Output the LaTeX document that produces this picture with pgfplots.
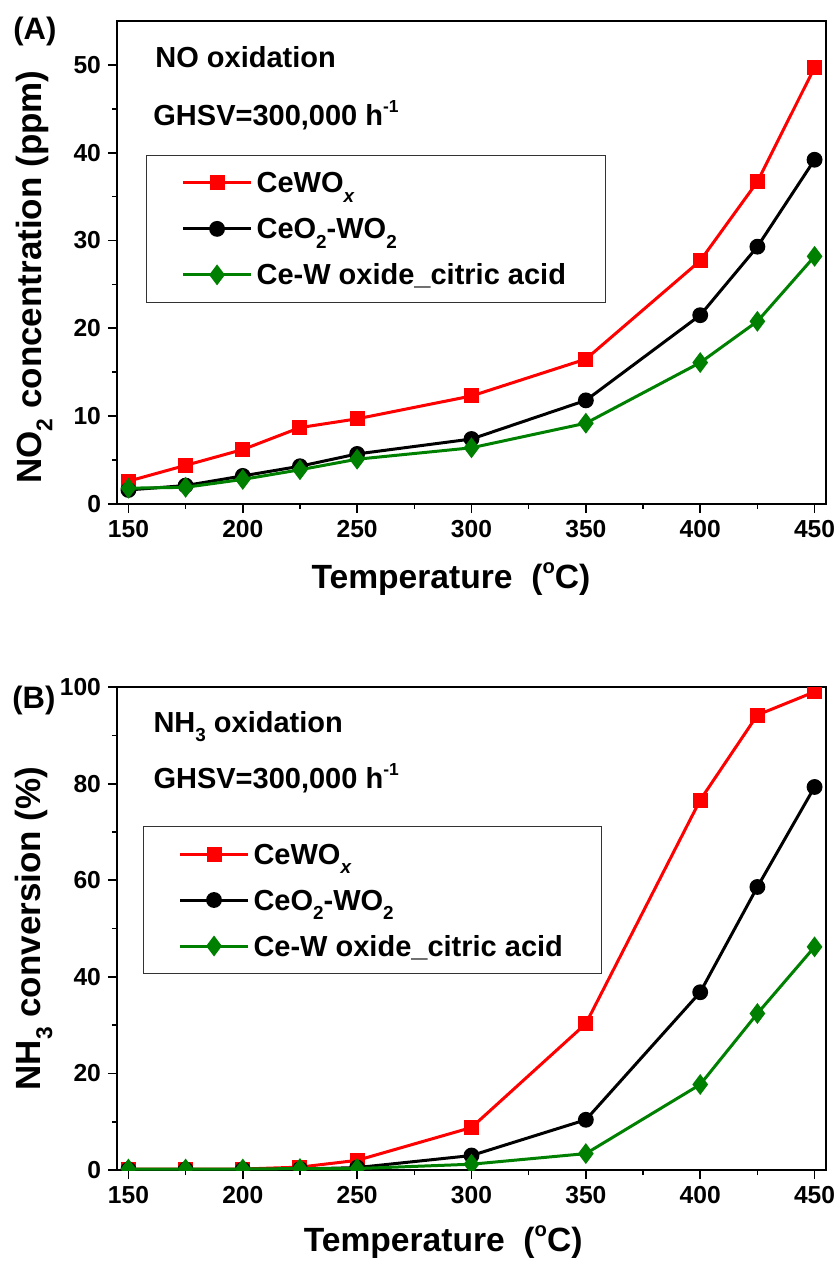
\documentclass[border=0pt]{standalone}
\usepackage{fontspec}
\setmainfont{Liberation Sans}
\usepackage{pgfplots}
\pgfplotsset{compat=1.18}
\definecolor{cred}{RGB}{255,0,0}
\definecolor{cgreen}{RGB}{0,128,0}
\newcommand\sub[1]{\raisebox{-0.32em}{\scalebox{0.65}{#1}}}
\newcommand\super[1]{\raisebox{0.45em}{\scalebox{0.6}{#1}}}
\newcommand\labfont{\fontsize{17.5}{20}\selectfont\bfseries}
\newcommand\xlabfont{\fontsize{16.8}{20}\selectfont\bfseries}
\tikzset{annot/.style={anchor=base west, inner sep=0pt, font=\fontsize{14.5}{16}\selectfont\bfseries}}
\pgfplotsset{
  myaxis/.style={
    scale only axis, width=354.5pt, height=241.5pt,
    xmin=145, xmax=455, xtick={150,200,...,450}, minor x tick num=1,
    ymin=0,
    tick align=outside, xtick pos=bottom, ytick pos=left,
    major tick length=4.5pt, minor tick length=2.5pt,
    axis line style={line width=1pt},
    every tick/.style={line width=0.9pt, black},
    every minor tick/.style={line width=0.8pt, black},
    ticklabel style={font=\fontsize{12.3}{14}\selectfont\bfseries},
    /pgf/number format/assume math mode=true,
    /pgf/number format/1000 sep={},
    clip marker paths=true,
    legend cell align=left,
    legend image code/.code={\draw[mark repeat=2,mark phase=2,#1] plot coordinates {(0pt,0pt) (17pt,0pt) (34pt,0pt)};},
    legend style={anchor=north west, draw=black!80, line width=0.5pt,
      inner xsep=17.5pt, inner ysep=4.2pt, row sep=4pt,
      font=\fontsize{14.5}{16}\selectfont\bfseries,
      nodes={inner sep=2pt, text height=12.5pt, text depth=2.5pt}},
  },
  sred/.style={cred, line width=1.5pt, mark=square*, mark size=3pt, mark options={solid, fill=cred}},
  sblack/.style={black, line width=1.5pt, mark=*, mark size=3.2pt, mark options={solid, fill=black}},
  sgreen/.style={cgreen, line width=1.5pt, mark=diamond*, mark size=4pt, mark options={solid, fill=cgreen}},
}
\begin{document}
\begin{tikzpicture}
\path[use as bounding box] (-58.5pt,-378.5pt) rectangle (360pt,252pt);
% Panel A
\begin{axis}[myaxis, at={(0pt,0pt)}, anchor=south west,
  ymax=55, ytick={0,10,...,50}, minor y tick num=1,
  xlabel={Temperature\ \ (\super{o}C)},
  ylabel={NO\sub{2} concentration (ppm)},
  every axis x label/.style={at={(axis description cs:0.471,-0.155)}, anchor=center, font=\xlabfont},
  every axis y label/.style={at={(axis description cs:-0.117,0.47)}, rotate=90, anchor=center, font=\labfont},
  legend style={at={(0.041,0.7226)}},
]
\addplot[sred] coordinates {(150,2.6)(175,4.4)(200,6.2)(225,8.7)(250,9.7)(300,12.3)(350,16.5)(400,27.7)(425,36.7)(450,49.7)};
\addlegendentry{CeWO\sub{\textit{x}}}
\addplot[sblack] coordinates {(150,1.6)(175,2.1)(200,3.2)(225,4.3)(250,5.7)(300,7.4)(350,11.8)(400,21.5)(425,29.3)(450,39.2)};
\addlegendentry{CeO\sub{2}-WO\sub{2}}
\addplot[sgreen] coordinates {(150,1.8)(175,1.9)(200,2.8)(225,3.9)(250,5.1)(300,6.4)(350,9.2)(400,16.1)(425,20.8)(450,28.2)};
\addlegendentry{Ce-W oxide\_citric acid}
\node[annot] at (axis description cs:0.0536,0.9027) {NO oxidation};
\node[annot] at (axis description cs:0.0508,0.7826) {GHSV=300,000 h\super{-1}};
\end{axis}
% Panel B
\begin{axis}[myaxis, at={(0pt,-333pt)}, anchor=south west,
  ymax=100, ytick={0,20,...,100}, minor y tick num=1,
  xlabel={Temperature\ \ (\super{o}C)},
  ylabel={NH\sub{3} conversion (\%)},
  every axis x label/.style={at={(axis description cs:0.46,-0.15)}, anchor=center, font=\xlabfont},
  every axis y label/.style={at={(axis description cs:-0.117,0.5)}, rotate=90, anchor=center, font=\labfont},
  legend style={at={(0.0367,0.712)}},
]
\addplot[sred] coordinates {(150,0.2)(175,0.2)(200,0.2)(225,0.6)(250,2.0)(300,8.8)(350,30.3)(400,76.6)(425,94.2)(450,99.0)};
\addlegendentry{CeWO\sub{\textit{x}}}
\addplot[sblack] coordinates {(150,0.1)(175,0.1)(200,0.1)(225,0.2)(250,0.5)(300,3.0)(350,10.4)(400,36.8)(425,58.6)(450,79.3)};
\addlegendentry{CeO\sub{2}-WO\sub{2}}
\addplot[sgreen] coordinates {(150,0.2)(175,0.2)(200,0.2)(225,0.3)(250,0.3)(300,1.2)(350,3.4)(400,17.7)(425,32.4)(450,46.2)};
\addlegendentry{Ce-W oxide\_citric acid}
\node[annot] at (axis description cs:0.051,0.906) {NH\sub{3} oxidation};
\node[annot] at (axis description cs:0.051,0.79) {GHSV=300,000 h\super{-1}};
\end{axis}
\node[anchor=base west, inner sep=0pt, font=\fontsize{15.5}{18}\selectfont\bfseries] at (-52pt,232pt) {(A)};
\node[anchor=base west, inner sep=0pt, font=\fontsize{15.5}{18}\selectfont\bfseries] at (-52.5pt,-102pt) {(B)};
\end{tikzpicture}
\end{document}
